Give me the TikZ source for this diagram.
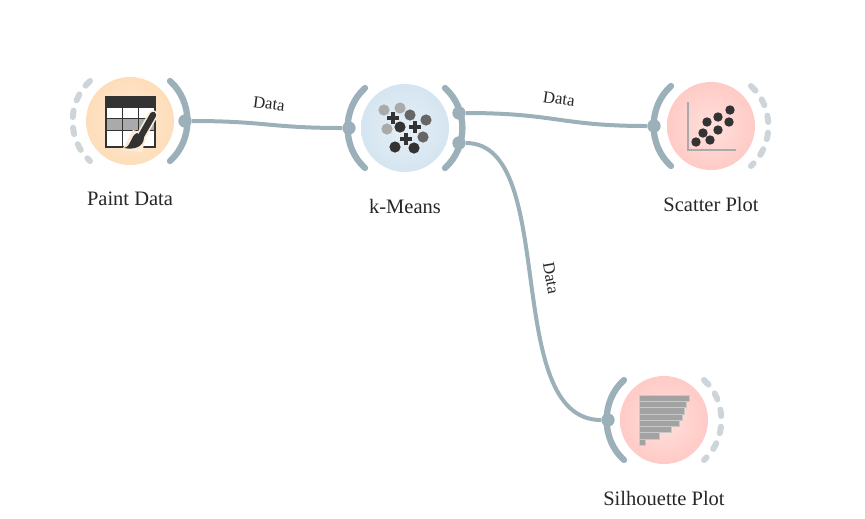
\documentclass[tikz,border=0pt]{standalone}
\usepackage{fontspec}
\setmainfont{Liberation Serif}
\definecolor{railgray}{HTML}{9CB0BA}
\definecolor{railpale}{HTML}{CDD5DA}
\definecolor{icondark}{HTML}{333333}
\definecolor{iconmid}{HTML}{666666}
\definecolor{iconlight}{HTML}{AAAAAA}
\definecolor{barfill}{HTML}{A2A2A2}
\definecolor{bargap}{HTML}{C8C8C8}
\definecolor{orangein}{HTML}{FEEBD8}
\definecolor{orangeout}{HTML}{FDCF9A}
\definecolor{bluein}{HTML}{E6EFF5}
\definecolor{blueout}{HTML}{C3DBEC}
\definecolor{redin}{HTML}{FFE0DC}
\definecolor{redout}{HTML}{FFB5B0}
\pgfdeclareradialshading{paintglow}{\pgfpointorigin}{color(0bp)=(orangein); color(50bp)=(orangeout)}
\pgfdeclareradialshading{kmeansglow}{\pgfpointorigin}{color(0bp)=(bluein); color(50bp)=(blueout)}
\pgfdeclareradialshading{plotglow}{\pgfpointorigin}{color(0bp)=(redin); color(50bp)=(redout)}
\tikzset{
  widget/.style={circle,minimum size=2.64cm,inner sep=0pt},
  rail/.style={draw=railgray,line width=0.19cm,line cap=round},
  spare/.style={draw=railpale,line width=0.18cm,line cap=round,dash pattern=on 5.5pt off 9.2pt},
  port/.style={circle,fill=railgray,minimum size=0.4cm,inner sep=0pt},
  link/.style={draw=railgray,line width=0.12cm},
  widgetname/.style={font=\fontsize{17.5}{20}\selectfont,text=black!85},
  linkname/.style={font=\fontsize{14.4}{16}\selectfont,text=black!85,inner sep=0pt},
  dot/.style={radius=5.6},
  point/.style={fill=icondark,radius=4.7},
  silbar/.style={fill=barfill,draw=bargap,line width=0.015cm}
}
\begin{document}
\begin{tikzpicture}[x=0.03cm,y=-0.03cm]
  \useasboundingbox (0,0) rectangle (865,518);
  % Widgets
  \node[widget,shading=paintglow] (paint) at (130,121) {};
  \node[widget,shading=kmeansglow] (kmeans) at (405,128) {};
  \node[widget,shading=plotglow] (scatter) at (711,126) {};
  \node[widget,shading=plotglow] (silhouette) at (664,420) {};
  % Channels
  \draw[spare] (90,81) to[bend right=48] (90,161);
  \draw[rail] (170,81) to[bend left=48] (170,161);
  \draw[rail] (365,88) to[bend right=48] (365,168);
  \draw[rail] (445,88) to[bend left=48] (445,168);
  \draw[rail] (671,86) to[bend right=48] (671,166);
  \draw[spare] (751,86) to[bend left=48] (751,166);
  \draw[rail] (624,380) to[bend right=48] (624,460);
  \draw[spare] (704,380) to[bend left=48] (704,460);
  % Ports
  \node[port] (paintout) at (185,121) {};
  \node[port] (kmeansin) at (349,128) {};
  \node[port] (kmeansout) at (459,113) {};
  \node[port] (kmeansall) at (459,143) {};
  \node[port] (scatterin) at (654,126) {};
  \node[port] (silhouettein) at (608,420) {};
  % Links
  \draw[link] (paintout) .. controls (265,121) and (270,128) .. (kmeansin);
  \draw[link] (kmeansout) .. controls (555,113) and (560,126) .. (scatterin);
  \draw[link] (kmeansall) .. controls (560,143) and (500,420) .. (silhouettein);
  \node[linkname,rotate=-7] (paintdata) at (269,104) {Data};
  \node[linkname,rotate=-8] (scatterdata) at (559,99) {Data};
  \node[linkname,rotate=-80] (silhouettedata) at (551,278) {Data};
  % Names
  \node[widgetname] (paintname) at (130,199) {Paint Data};
  \node[widgetname] (kmeansname) at (405,206) {k-Means};
  \node[widgetname] (scattername) at (711,204) {Scatter Plot};
  \node[widgetname] (silhouettename) at (664,498) {Silhouette Plot};
  % Table icon
  \fill[white] (106,97) rectangle (155,147);
  \fill[iconlight] (106,118) rectangle (155,130);
  \draw[icondark,line width=0.03cm] (122,107) -- (122,147) (138,107) -- (138,147) (106,118) -- (155,118) (106,130) -- (155,130);
  \fill[icondark] (106,97) rectangle (155,108);
  \draw[icondark,line width=0.07cm] (106,97) rectangle (155,147);
  \draw[orangein,line width=0.29cm,line cap=round] (153,115) -- (141,136);
  \fill[orangein] (122,150) -- (142,152) -- (147,134) -- (133,130) -- cycle;
  \draw[icondark,line width=0.19cm,line cap=round] (153,115) -- (141,136);
  \fill[icondark] (124,148) .. controls (132,146) and (130,136) .. (137,133) -- (144,137) .. controls (144,147) and (134,150) .. cycle;
  % k-means icon
  \fill[iconlight] (384,110) circle[dot] (400,108) circle[dot] (387,129) circle[dot];
  \fill[iconmid] (410,115) circle[dot] (426,120) circle[dot] (423,137) circle[dot];
  \fill[icondark] (400,127) circle[dot] (395,147) circle[dot] (414,148) circle[dot];
  \foreach \px/\py in {393/118,415/127,406/139}
    \draw[icondark,line width=0.13cm] (\px-6,\py) -- (\px+6,\py) (\px,\py-6) -- (\px,\py+6);
  % Scatter icon
  \draw[iconlight,line width=0.075cm] (688,102) -- (688,150) -- (736,150);
  \foreach \px/\py in {696/142,710/140,703/133,718/130,707/122,729/122,718/117,730/110}
    \fill[point] (\px,\py) circle;
  % Silhouette icon
  \foreach \barend [count=\i from 0] in {689,686,684,682,679,671,659,645}
    \path[silbar] (639,395+\i*6.25) rectangle (\barend,401.25+\i*6.25);
\end{tikzpicture}
\end{document}
